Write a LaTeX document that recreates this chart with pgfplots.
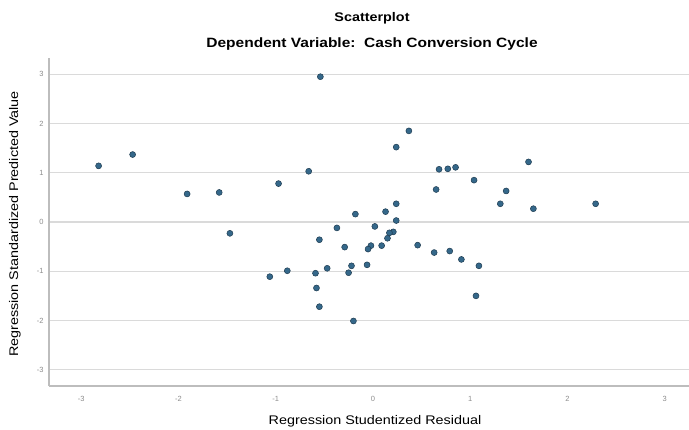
\documentclass[border=0pt]{standalone}
\usepackage{pgfplots}
\pgfplotsset{compat=1.18}
\usepackage{fontspec}
\setmainfont{Liberation Sans}
\newfontfamily\labfont[FakeStretch=1.15]{Liberation Sans}
\definecolor{ptfill}{HTML}{35688A}
\definecolor{ptdraw}{HTML}{1E3B50}
\definecolor{gridc}{HTML}{DADADA}
\definecolor{axisc}{HTML}{BDBDBD}
\definecolor{tickc}{HTML}{8C8C8C}
\begin{document}
\begin{tikzpicture}[x=1pt,y=1pt]
\path[use as bounding box] (0,0) rectangle (689,429);
\begin{axis}[
  at={(49pt,43pt)}, anchor=south west,
  width=640pt, height=328pt, scale only axis,
  xmin=-3.33, xmax=3.25, ymin=-3.33, ymax=3.33,
  xtick={-3,-2,-1,0,1,2,3}, ytick={-3,-2,-1,0,1,2,3},
  axis lines*=left,
  axis line style={draw=axisc, line width=1.3pt},
  ymajorgrids, major grid style={draw=gridc, line width=1.3pt},
  major tick length=0pt,
  /pgf/number format/assume math mode=true,
  ticklabel style={font=\fontsize{7.5}{8}\selectfont, text=tickc},
  xticklabel style={yshift=-7pt},
  yticklabel style={xshift=-2pt},
  clip=false,
]
\addplot[only marks, mark=*, mark size=3pt, mark options={fill=ptfill, draw=ptdraw, line width=0.5pt}]
coordinates {
(-2.82,1.14) (-2.47,1.37) (-1.91,0.57) (-1.58,0.60) (-1.47,-0.23)
(-0.54,2.95) (0.37,1.85) (0.24,1.52) (-0.66,1.03) (-0.97,0.78)
(0.68,1.07) (0.77,1.08) (0.85,1.11) (1.04,0.85) (0.65,0.66)
(0.24,0.37) (0.13,0.21) (-0.18,0.16) (0.24,0.03) (-0.37,-0.12)
(0.02,-0.09) (0.21,-0.20) (0.17,-0.22) (0.15,-0.33) (-0.55,-0.36)
(-0.29,-0.51) (-0.02,-0.48) (-0.05,-0.55) (0.09,-0.48) (0.46,-0.47)
(0.63,-0.62) (0.79,-0.59) (0.91,-0.76) (1.09,-0.89) (1.06,-1.50)
(-1.06,-1.11) (-0.88,-0.99) (-0.59,-1.04) (-0.47,-0.94) (-0.25,-1.03)
(-0.22,-0.89) (-0.06,-0.87) (-0.58,-1.34) (-0.55,-1.72) (-0.20,-2.01)
(1.60,1.22) (1.37,0.63) (1.31,0.37) (1.65,0.27) (2.29,0.37)
};
\end{axis}
\node[font=\labfont\bfseries\fontsize{12.5}{14}\selectfont] at (372,411) {Scatterplot};
\node[font=\labfont\bfseries\fontsize{13.5}{15}\selectfont] at (372,385) {Dependent Variable:\ \ Cash Conversion Cycle};
\node[font=\labfont\fontsize{12.5}{14}\selectfont] at (375,8) {Regression Studentized Residual};
\node[font=\labfont\fontsize{12.5}{14}\selectfont, rotate=90] at (15,205) {Regression Standardized Predicted Value};
\end{tikzpicture}
\end{document}
